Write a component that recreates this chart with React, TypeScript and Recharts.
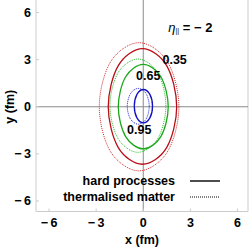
import React from "react";
import {
  LineChart,
  Line,
  XAxis,
  YAxis,
  ReferenceLine,
  ReferenceDot,
  Legend,
} from "recharts";

// contour points (fm), going round each ellipse
const redHard = [
  { x: 2.13, y: 0 }, { x: 1.49, y: 2.62 }, { x: -0.05, y: 3.7 }, { x: -1.59, y: 2.62 },
  { x: -2.23, y: 0 }, { x: -1.59, y: -2.6 }, { x: -0.05, y: -3.66 }, { x: 1.49, y: -2.6 },
];
const redThermal = [
  { x: 2.27, y: 0 }, { x: 1.53, y: 2.88 }, { x: -0.27, y: 4.08 }, { x: -2.07, y: 2.88 },
  { x: -2.8, y: 0 }, { x: -2.07, y: -2.88 }, { x: -0.27, y: -4.08 }, { x: 1.53, y: -2.88 },
];
const greenHard = [
  { x: 1.59, y: 0 }, { x: 1.12, y: 1.91 }, { x: 0, y: 2.7 }, { x: -1.12, y: 1.91 },
  { x: -1.59, y: 0 }, { x: -1.12, y: -1.9 }, { x: 0, y: -2.68 }, { x: 1.12, y: -1.9 },
];
const greenThermal = [
  { x: 1.44, y: 0.07 }, { x: 0.92, y: 2.17 }, { x: -0.34, y: 3.04 }, { x: -1.6, y: 2.17 },
  { x: -2.12, y: 0.07 }, { x: -1.6, y: -2.03 }, { x: -0.34, y: -2.9 }, { x: 0.92, y: -2.03 },
];
const blueHard = [
  { x: 0.59, y: 0.04 }, { x: 0.42, y: 0.79 }, { x: 0.01, y: 1.1 }, { x: -0.4, y: 0.79 },
  { x: -0.57, y: 0.04 }, { x: -0.4, y: -0.71 }, { x: 0.01, y: -1.02 }, { x: 0.42, y: -0.71 },
];
const blueThermal = [
  { x: 0.38, y: 0.03 }, { x: 0.18, y: 0.84 }, { x: -0.32, y: 1.17 }, { x: -0.81, y: 0.84 },
  { x: -1.02, y: 0.03 }, { x: -0.81, y: -0.78 }, { x: -0.32, y: -1.11 }, { x: 0.18, y: -0.78 },
];

const ticks = [-6, -3, 0, 3, 6];
const levels = [
  { text: "0.35", x: 2.0, y: 3.0 },
  { text: "0.65", x: 0.32, y: 2.0 },
  { text: "0.95", x: -0.26, y: -1.48 },
];
const legendItems = [
  { name: "hard processes", dash: undefined },
  { name: "thermalised matter", dash: "1 1" },
];

const FONT = "'Liberation Sans', Arial, sans-serif";

// closed catmull-rom so the few points come out as a smooth loop
const closedSmooth: any = (ctx: any) => {
  let pts: number[][] = [];
  return {
    areaStart() {},
    areaEnd() {},
    lineStart() {
      pts = [];
    },
    point(x: number, y: number) {
      pts.push([x, y]);
    },
    lineEnd() {
      const n = pts.length;
      if (!n) return;
      ctx.moveTo(pts[0][0], pts[0][1]);
      for (let i = 0; i < n; i++) {
        const p0 = pts[(i - 1 + n) % n];
        const p1 = pts[i];
        const p2 = pts[(i + 1) % n];
        const p3 = pts[(i + 2) % n];
        ctx.bezierCurveTo(
          p1[0] + (p2[0] - p0[0]) / 6,
          p1[1] + (p2[1] - p0[1]) / 6,
          p2[0] - (p3[0] - p1[0]) / 6,
          p2[1] - (p3[1] - p1[1]) / 6,
          p2[0],
          p2[1]
        );
      }
      ctx.closePath();
    },
  };
};

const fmtTick = (v: number) => (v < 0 ? `\u2212\u2009${Math.abs(v)}` : `${v}`);

const LegendBox = () => (
  <div style={{ fontFamily: FONT, fontWeight: "bold", fontSize: 12.5, color: "#000" }}>
    {legendItems.map((it) => (
      <div
        key={it.name}
        style={{ display: "flex", justifyContent: "flex-end", alignItems: "center", height: 16.3 }}
      >
        <span style={{ marginRight: 15, whiteSpace: "nowrap" }}>{it.name}</span>
        <svg width={30} height={4}>
          <line x1={0} y1={2} x2={30} y2={2} stroke="#000" strokeWidth={it.dash ? 1 : 1.4} strokeDasharray={it.dash} />
        </svg>
      </div>
    ))}
  </div>
);

const YLabel = (props: any) => {
  const vb = props.viewBox;
  const cx = vb.x + 9.5;
  const cy = vb.y + vb.height / 2 + 1;
  return (
    <text
      x={cx}
      y={cy}
      transform={`rotate(-90, ${cx}, ${cy})`}
      textAnchor="middle"
      dominantBaseline="central"
      fontFamily={FONT}
      fontWeight="bold"
      fontSize={12.5}
      fill="#000"
    >
      y (fm)
    </text>
  );
};

const EtaLabel = (props: any) => {
  const vb = props.viewBox;
  return (
    <text
      x={vb.x + vb.width / 2}
      y={vb.y + vb.height / 2}
      textAnchor="middle"
      dominantBaseline="central"
      fontFamily={FONT}
      fontSize={13}
      fill="#000"
    >
      <tspan fontStyle="italic">η</tspan>
      <tspan fontSize={7} dy={3}>||</tspan>
      <tspan dy={-3} fontWeight="bold"> = − 2</tspan>
    </text>
  );
};

export default function App() {
  const tickStyle = { fontFamily: FONT, fontWeight: "bold", fontSize: 12.5, fill: "#000" };
  const series = [
    { data: redThermal, color: "#d22a2a", dash: "1 1", w: 1 },
    { data: redHard, color: "#b80f17", dash: undefined, w: 1.3 },
    { data: greenThermal, color: "#2bbb2b", dash: "1 1", w: 1 },
    { data: greenHard, color: "#1aa81a", dash: undefined, w: 1.3 },
    { data: blueThermal, color: "#2020d0", dash: "1 1", w: 1 },
    { data: blueHard, color: "#1010c0", dash: undefined, w: 1.3 },
  ];
  return (
    <div style={{ position: "absolute", left: 0, top: 0 }}>
      <LineChart width={250} height={247} margin={{ top: 0, right: 2, bottom: 0, left: 0 }}>
        <XAxis
          dataKey="x"
          type="number"
          domain={[-6.83, 6.67]}
          allowDataOverflow
          ticks={ticks}
          tickFormatter={fmtTick}
          tick={tickStyle}
          tickSize={-3}
          tickMargin={9.5}
          tickLine={{ stroke: "#ccc" }}
          axisLine={{ stroke: "#ccc" }}
          height={35.5}
          label={{
            value: "x (fm)",
            position: "insideBottom",
            offset: 3.5,
            style: { fontFamily: FONT, fontWeight: "bold", fontSize: 12.5, fill: "#000" },
          }}
        />
        <YAxis
          dataKey="y"
          type="number"
          domain={[-6.67, 6.8]}
          allowDataOverflow
          ticks={ticks}
          tickFormatter={fmtTick}
          tick={tickStyle}
          tickSize={-3}
          tickMargin={8}
          tickLine={{ stroke: "#ccc" }}
          axisLine={{ stroke: "#ccc" }}
          width={36}
          label={{ content: YLabel }}
        />
        <ReferenceLine x={6.67} stroke="#ccc" />
        <ReferenceLine x={0} stroke="#8a8a8a" />
        <ReferenceLine y={0} stroke="#8a8a8a" />
        {series.map((s, i) => (
          <Line
            key={i}
            data={s.data}
            dataKey="y"
            type={closedSmooth}
            stroke={s.color}
            strokeWidth={s.w}
            strokeDasharray={s.dash}
            dot={false}
            activeDot={false}
            isAnimationActive={false}
            legendType="none"
          />
        ))}
        {levels.map((l) => (
          <ReferenceDot
            key={l.text}
            x={l.x}
            y={l.y}
            r={0}
            fill="none"
            stroke="none"
            label={{
              value: l.text,
              position: "center",
              style: { fontFamily: FONT, fontWeight: "bold", fontSize: 12.5, fill: "#000" },
            }}
          />
        ))}
        <ReferenceDot x={3.0} y={5.1} r={0} fill="none" stroke="none" label={{ content: EtaLabel }} />
        <Legend
          content={<LegendBox />}
          layout="vertical"
          align="center"
          verticalAlign="middle"
          wrapperStyle={{ position: "absolute", left: 40, top: 172.5, width: 180 }}
        />
      </LineChart>
    </div>
  );
}
